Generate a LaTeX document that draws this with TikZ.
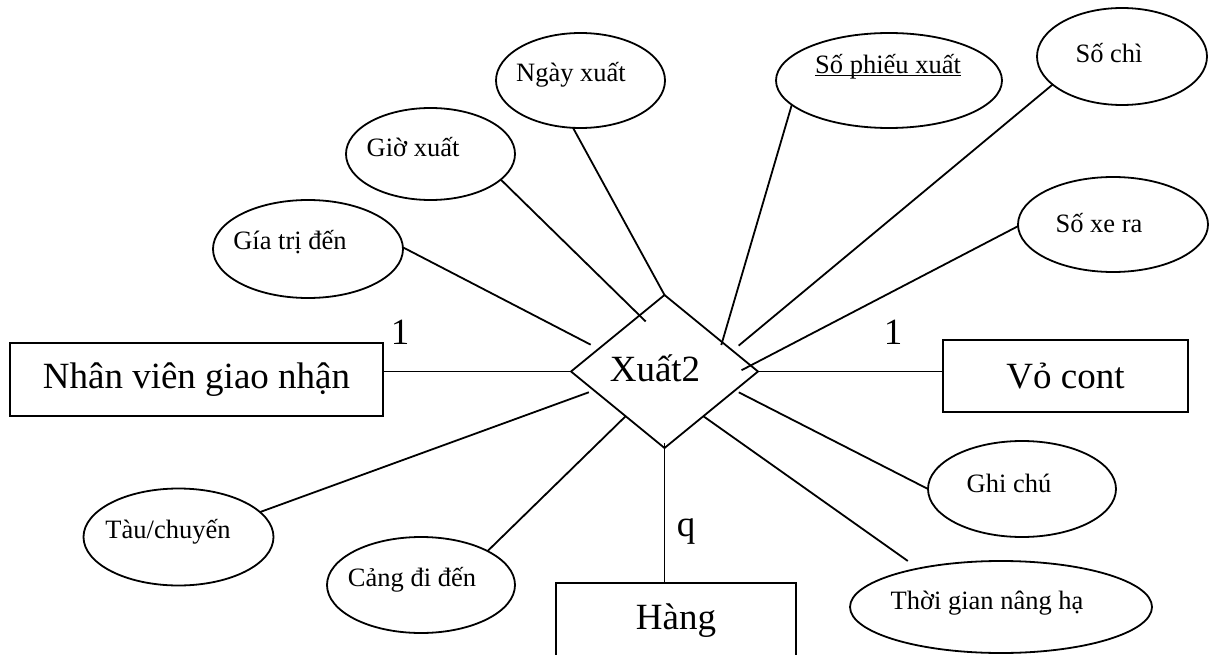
\documentclass[tikz,border=0pt]{standalone}
\usepackage{fontspec}
\setmainfont{Liberation Serif}
\usetikzlibrary{shapes.geometric}

\begin{document}
\begin{tikzpicture}[x=1pt,y=-1pt,
  conn/.style={line width=1.8pt},
  entity/.style={draw, rectangle, line width=2.2pt, inner sep=0pt, outer sep=0pt,
                 font=\fontsize{37}{40}\selectfont},
  attr/.style={draw, ellipse, line width=1.8pt, inner sep=0pt, outer sep=0pt},
  attrtext/.style={inner sep=0pt, font=\fontsize{26.5}{30}\selectfont},
  bigtext/.style={inner sep=0pt, font=\fontsize{37}{40}\selectfont},
  relship/.style={draw, diamond, line width=1.8pt, inner sep=0pt, outer sep=0pt}]
\useasboundingbox (0,0) rectangle (1215,655);
\clip (0,0) rectangle (1215,655);

% relationship
\node[relship, minimum width=187pt, minimum height=153pt] (xuat) at (664.5,371.5) {};
\node[bigtext, xshift=-9.5pt, yshift=3.5pt] (xuat-t) at (xuat) {Xuất2};

% entities
\node[entity, minimum width=373pt, minimum height=73pt] (nv) at (196.5,379.5) {Nhân viên giao nhận};
\node[entity, minimum width=245pt, minimum height=72pt] (vo) at (1065.5,376) {Vỏ cont};
\node[entity, minimum width=240pt, minimum height=76pt] (hang) at (676,621) {Hàng};

% attributes
\node[attr, minimum width=169pt, minimum height=95pt] (ngay) at (580.5,80.5) {};
\node[attr, minimum width=169pt, minimum height=92pt] (gio) at (430.5,154) {};
\node[attr, minimum width=190pt, minimum height=98pt] (gia) at (308,249) {};
\node[attr, minimum width=226pt, minimum height=95pt] (sophieu) at (889,80.5) {};
\node[attr, minimum width=170pt, minimum height=97pt] (sochi) at (1122,56.5) {};
\node[attr, minimum width=190pt, minimum height=95pt] (soxe) at (1113,224.5) {};
\node[attr, minimum width=190pt, minimum height=97pt] (tau) at (178.5,537) {};
\node[attr, minimum width=188pt, minimum height=96pt] (cang) at (421,585) {};
\node[attr, minimum width=188pt, minimum height=96pt] (ghichu) at (1022,489) {};
\node[attr, minimum width=302pt, minimum height=92pt] (thoigian) at (1001,607) {};

\node[attrtext, xshift=-9.5pt, yshift=5.5pt] (ngay-t) at (ngay) {Ngày xuất};
\node[attrtext, xshift=-17.5pt, yshift=7pt] (gio-t) at (gio) {Giờ xuất};
\node[attrtext, xshift=-18pt, yshift=7pt] (gia-t) at (gia) {Gía trị đến};
\node[attrtext, xshift=-1pt, yshift=5.5pt] (sophieu-t) at (sophieu) {\underline{\smash{Số phiếu xuất}}};
\node[attrtext, xshift=-13pt, yshift=3.5pt] (sochi-t) at (sochi) {Số chì};
\node[attrtext, xshift=-14pt, yshift=1.5pt] (soxe-t) at (soxe) {Số xe ra};
\node[attrtext, xshift=-10.5pt, yshift=5pt] (tau-t) at (tau) {Tàu/chuyến};
\node[attrtext, xshift=-9pt, yshift=5pt] (cang-t) at (cang) {Cảng đi đến};
\node[attrtext, xshift=-13pt, yshift=6pt] (ghichu-t) at (ghichu) {Ghi chú};
\node[attrtext, xshift=-14pt, yshift=4pt] (thoigian-t) at (thoigian) {Thời gian nâng hạ};

% cardinalities
\node[bigtext] (card-nv) at (400,332) {1};
\node[bigtext] (card-vo) at (893,332) {1};
\node[bigtext] (card-hang) at (686,532) {q};

% connectors
\draw[conn, shorten >=9pt] (gia.1) -- (xuat.161.5);
\draw[conn, shorten >=-8.6pt] (gio.-20.5) -- (xuat.114.8);
\draw[conn] (ngay.-99) -- (xuat.north);
\draw[conn, shorten >=-3pt] (sophieu.194.3) -- (xuat.27.2);
\draw[conn, shorten >=7.9pt] (sochi.202.3) -- (xuat.17.6);
\draw[conn, shorten >=-10.3pt] (soxe.181.5) -- (xuat.4.9);
\draw[conn] (xuat.east) -- (xuat.east -| vo.west);
\draw[conn] (xuat.west) -- (xuat.west -| nv.east);
\draw[conn, shorten >=5.5pt] (tau.17.9) -- (xuat.195.9);
\draw[conn] (cang.27.2) -- (xuat.229.1);
\draw[conn, shorten <=-5pt] (xuat.south) -- (xuat.south |- hang.north);
\draw[conn, shorten >=13pt] (xuat.-49.8) -- (thoigian.155.2);
\draw[conn, shorten <=4.3pt] (xuat.-15.7) -- (ghichu.180);
\end{tikzpicture}
\end{document}
